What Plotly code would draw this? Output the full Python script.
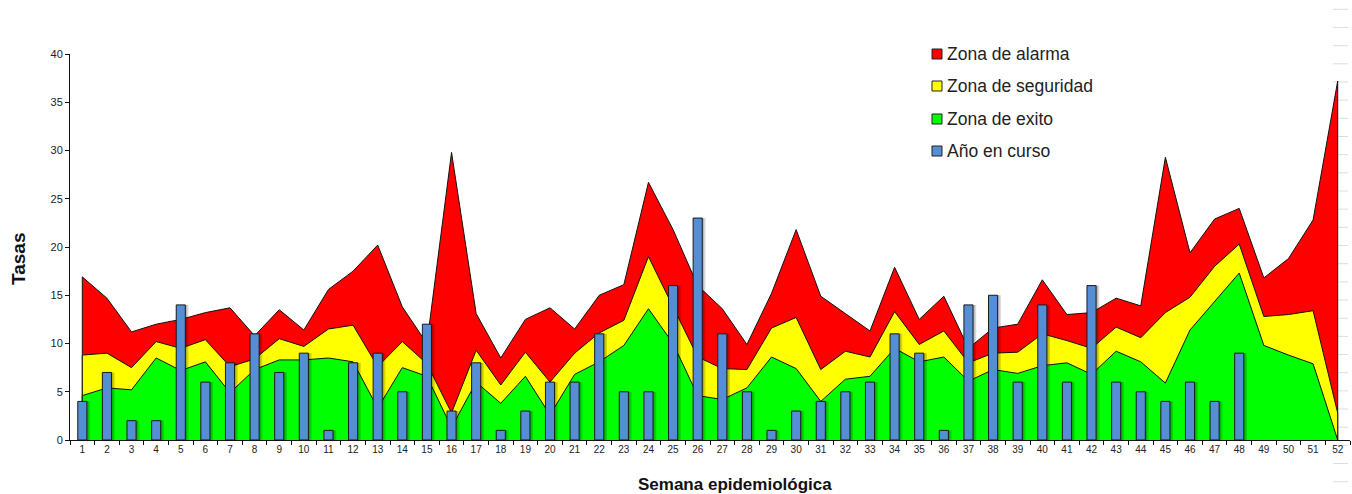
import plotly.graph_objects as go

weeks = [str(i) for i in range(1, 53)]

alarma = [16.9, 14.7, 11.2, 12.0, 12.5, 13.2, 13.7, 10.8, 13.5, 11.4,
          15.6, 17.5, 20.2, 13.8, 10.0, 29.8, 13.1, 8.5, 12.5, 13.7,
          11.5, 15.0, 16.1, 26.7, 21.8, 16.0, 13.6, 9.9, 15.2, 21.8,
          14.9, 13.1, 11.3, 17.9, 12.5, 14.9, 9.5, 11.6, 12.0, 16.6,
          13.0, 13.2, 14.7, 13.9, 29.3, 19.4, 22.9, 24.0, 16.8, 18.8,
          22.8, 37.2]

seguridad = [8.8, 9.0, 7.5, 10.2, 9.5, 10.4, 7.6, 8.4, 10.5, 9.7,
             11.5, 11.9, 7.6, 10.2, 7.9, 2.8, 9.3, 5.7, 9.1, 6.0,
             9.0, 11.1, 12.4, 19.0, 13.8, 8.6, 7.4, 7.3, 11.6, 12.7,
             7.3, 9.2, 8.6, 13.3, 9.9, 11.3, 8.0, 9.0, 9.1, 11.0,
             10.3, 9.5, 11.7, 10.6, 13.2, 14.8, 18.0, 20.3, 12.8, 13.0,
             13.4, 2.8]

exito = [4.6, 5.4, 5.2, 8.5, 7.2, 8.1, 4.9, 7.3, 8.3, 8.3,
         8.5, 8.1, 3.3, 7.5, 6.6, 1.3, 6.0, 3.8, 6.6, 2.6,
         6.8, 8.1, 9.8, 13.6, 10.0, 4.6, 4.2, 5.4, 8.6, 7.4,
         4.0, 6.3, 6.6, 9.5, 8.1, 8.6, 6.1, 7.3, 6.9, 7.7,
         8.0, 6.8, 9.2, 8.1, 5.9, 11.4, 14.3, 17.3, 9.8, 8.8,
         7.9, 0.1]

curso = [4, 7, 2, 2, 14, 6, 8, 11, 7, 9,
         1, 8, 9, 5, 12, 3, 8, 1, 3, 6,
         6, 11, 5, 5, 16, 23, 11, 5, 1, 3,
         4, 5, 6, 11, 9, 1, 14, 15, 6, 14,
         6, 16, 6, 5, 4, 6, 4, 9, None, None,
         None, None]

legend_names = ["Zona de alarma", "Zona de seguridad", "Zona de exito", "Año en curso"]
legend_colors = ["#FF0000", "#FFFF00", "#00FF00", "#558ED5"]

FONT = "Liberation Sans, Arial, sans-serif"
W, H = 1352, 494
ML, MR, MT, MB = 70, 2, 54, 54
PW, PH = W - ML - MR, H - MT - MB


def px_x(px):
    return (px - ML) / PW


def px_y(py):
    return (H - MB - py) / PH


fig = go.Figure()

for vals, col, name in [(alarma, "#FF0000", legend_names[0]),
                        (seguridad, "#FFFF00", legend_names[1]),
                        (exito, "#00FF00", legend_names[2])]:
    fig.add_trace(go.Scatter(
        x=[weeks[0]] + weeks + [weeks[-1]],
        y=[0] + vals + [0],
        mode="lines", fill="toself", fillcolor=col,
        line=dict(color="#111111", width=1),
        name=name, showlegend=False, hoverinfo="skip",
        xaxis="x", yaxis="y"))

bw = 0.37
fig.add_trace(go.Bar(
    x=weeks, y=curso, width=bw, offset=-bw / 2 + 0.13,
    marker=dict(color="rgba(0,0,0,0.16)", line=dict(width=0)),
    showlegend=False, hoverinfo="skip", xaxis="x", yaxis="y2"))
fig.add_trace(go.Bar(
    x=weeks, y=curso, width=bw, offset=-bw / 2 + 0.07,
    marker=dict(color="rgba(0,0,0,0.14)", line=dict(width=0)),
    showlegend=False, hoverinfo="skip", xaxis="x", yaxis="y2"))
fig.add_trace(go.Bar(
    x=weeks, y=curso, width=bw, offset=-bw / 2,
    marker=dict(color="#558ED5", line=dict(color="#1a1a1a", width=1)),
    name=legend_names[3], showlegend=False, xaxis="x", yaxis="y2"))

shapes = []
annotations = []

# manual legend
leg_rows = [54, 86, 119, 151]
for name, col, cy in zip(legend_names, legend_colors, leg_rows):
    shapes.append(dict(type="rect", xref="paper", yref="paper",
                       x0=px_x(932), x1=px_x(942), y0=px_y(cy + 5), y1=px_y(cy - 5),
                       fillcolor=col, line=dict(color="#222222", width=1)))
    annotations.append(dict(xref="paper", yref="paper", x=px_x(945), y=px_y(cy),
                            xanchor="left", yanchor="middle", showarrow=False,
                            text=name, font=dict(family=FONT, size=17.5, color="#222222")))

# faint right-edge ruler marks
for i in range(27):
    yy = 9.3 + i * 18.17
    shapes.append(dict(type="line", xref="paper", yref="paper", layer="below",
                       x0=px_x(1333), x1=px_x(1348), y0=px_y(yy), y1=px_y(yy),
                       line=dict(color="#dddddd", width=1)))

annotations.append(dict(xref="paper", yref="paper", x=px_x(18), y=px_y(259),
                        xanchor="center", yanchor="middle", showarrow=False,
                        textangle=-90, text="<b>Tasas</b>",
                        font=dict(family=FONT, size=19, color="#111111")))
annotations.append(dict(xref="paper", yref="paper", x=px_x(735), y=px_y(484),
                        xanchor="center", yanchor="middle", showarrow=False,
                        text="<b>Semana epidemiológica</b>",
                        font=dict(family=FONT, size=17, color="#111111")))

fig.update_layout(
    width=W, height=H,
    margin=dict(l=ML, r=MR, t=MT, b=MB, pad=0),
    paper_bgcolor="white", plot_bgcolor="white",
    barmode="overlay",
    showlegend=False,
    font=dict(family=FONT, color="#222222"),
    xaxis=dict(type="category", categoryorder="array", categoryarray=weeks,
               range=[-0.5, 51.5], tickson="boundaries", ticks="outside",
               ticklen=4, tickcolor="#111111", showline=True, linecolor="#111111",
               linewidth=1, showgrid=False, zeroline=False,
               tickfont=dict(family=FONT, size=10, color="#222222")),
    yaxis=dict(range=[0, 40], dtick=5, ticks="outside", ticklen=4,
               tickcolor="#111111", showline=True, linecolor="#111111",
               linewidth=1, showgrid=False, zeroline=False,
               tickfont=dict(family=FONT, size=11, color="#222222")),
    yaxis2=dict(range=[0, 40], overlaying="y", visible=False, showgrid=False),
    shapes=shapes,
    annotations=annotations,
)

fig.write_html(
    "out.html",
    config={"displayModeBar": False},
    post_script="document.body.style.margin='0px';document.body.style.overflow='hidden';",
)
